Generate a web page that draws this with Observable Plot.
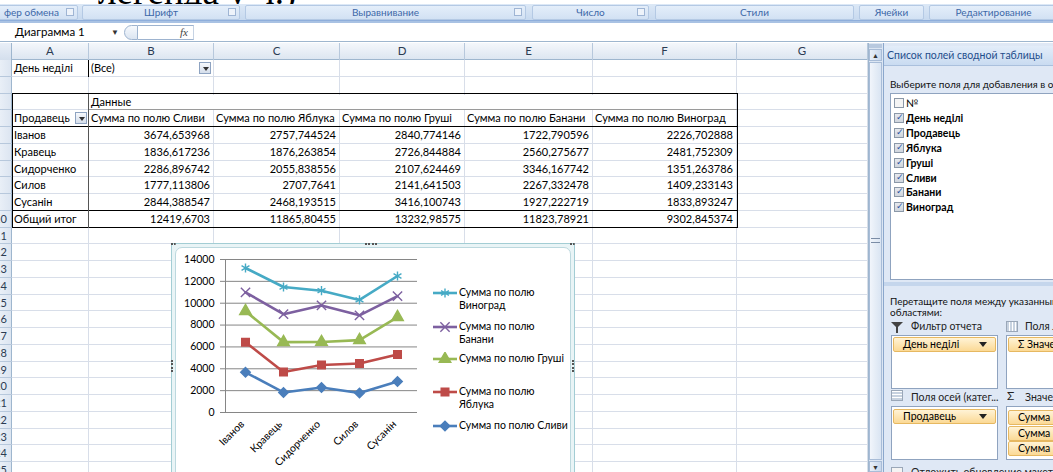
<!DOCTYPE html>
<html><head><meta charset="utf-8">
<script src="https://cdn.jsdelivr.net/npm/d3@7"></script>
<script src="https://cdn.jsdelivr.net/npm/@observablehq/plot@0.6"></script>
<style>
body{margin:0;width:1053px;height:472px;overflow:hidden;position:relative;background:#fff;font-family:Lato,"Noto Sans",sans-serif;}
.a{position:absolute;box-sizing:border-box;white-space:nowrap;overflow:hidden;}
</style></head><body>
<script>
// ---------- data ----------
const sellers = ["Іванов","Кравець","Сидорченко","Силов","Сусанін"];
const plums   = [3674.653968,1836.617236,2286.896742,1777.113806,2844.388547];
const apples  = [2757.744524,1876.263854,2055.838556,2707.7641,2468.193515];
const pears   = [2840.774146,2726.844884,2107.624469,2141.641503,3416.100743];
const bananas = [1722.790596,2560.275677,3346.167742,2267.332478,1927.222719];
const grapes  = [2226.702888,2481.752309,1351.263786,1409.233143,1833.893247];
const totals  = [12419.6703,11865.80455,13232.98575,11823.78921,9302.845374];
const seriesNames = ["Сумма по полю Сливи","Сумма по полю Яблука","Сумма по полю Груші","Сумма по полю Банани","Сумма по полю Виноград"];
const seriesValues = [plums, apples, pears, bananas, grapes];
const seriesColors = ["#4a7ebb","#be4b48","#98b954","#7d60a0","#46aac5"];
const seriesSymbols = ["diamond2","square","triangle","times","asterisk"];
const yTicks = [0,2000,4000,6000,8000,10000,12000,14000];
const colLetters = ["A","B","C","D","E","F","G"];
const fieldNames = ["№","День неділі","Продавець","Яблука","Груші","Сливи","Банани","Виноград"];
const fieldChecked = [false,true,true,true,true,true,true,true];
const ribbonGroups = ["фер обмена","Шрифт","Выравнивание","Число","Стили","Ячейки","Редактирование"];

// ---------- helpers ----------
function el(x,y,w,h,css,text,parent){
  const d=document.createElement('div'); d.className='a';
  Object.assign(d.style,{left:x+'px',top:y+'px',width:w+'px',height:h+'px'},css||{});
  if(text!=null) d.textContent=text;
  (parent||document.body).appendChild(d); return d;
}
const fmt = v => String(v).replace('.',',');

// ---------- top text & ribbon ----------
const topText=el(98,-28,320,33,{fontFamily:"'Liberation Serif',serif",fontSize:'37px',color:'#000',lineHeight:'40px'},"легенда у ч.)");
el(0,4,1053,17,{background:'linear-gradient(#dce8f6,#c7d9ef)',borderBottom:'1px solid #8eaedb'});
const groups=[[-20,80],[82,242],[245,528],[532,651],[655,856],[859,926],[929,1060]];
groups.forEach((g,i)=>{
  const d=el(g[0],5,g[1]-g[0]-2,15,{background:'linear-gradient(#e4eefa,#d2e1f3)',border:'1px solid #b4c9e4',borderRadius:'2px',color:'#3d68a8',fontSize:'10px',lineHeight:'13px',textAlign:'center'},ribbonGroups[i]);
  if(i===0){d.style.textAlign='left';d.style.paddingLeft='23px';}
  if(i<4){el(g[1]-14,8,8,8,{border:'1px solid #9fb5d4',background:'#eef3fa'});}
});
el(0,21,1053,2,{background:'#a9c2e3'});
// formula bar
el(0,23,1053,19,{background:'#fff',borderBottom:'1px solid #9eb6ce'});
el(10,24,116,16,{fontSize:'11.5px',lineHeight:'16px',color:'#000',paddingLeft:'5px'},"Диаграмма 1");
el(111,26,10,12,{fontSize:'8px',lineHeight:'12px',color:'#333'},"▼");
el(124,25,14,15,{border:'1px solid #9db3cf',borderRadius:'8px 0 0 8px',background:'linear-gradient(#f6f9fd,#dbe5f1)'});
el(138,25,56,15,{borderTop:'1px solid #9db3cf',borderBottom:'1px solid #9db3cf',borderRight:'1px solid #c6d3e4',fontFamily:"'Liberation Serif',serif",fontStyle:'italic',fontSize:'11px',lineHeight:'13px',textAlign:'right',paddingRight:'5px',color:'#444'},"fx");

// ---------- sheet grid ----------
const colEdges=[12,89,214,340,465,593,737,868];
const rowH=16.75, r0=60;
const rt=n=>r0+(n-1)*rowH;
el(0,43,868,17,{background:'linear-gradient(#f4f7fb,#dde6f1)',borderBottom:'1px solid #9eb6ce'});
el(0,43,12,17,{background:'linear-gradient(#e9eff7,#d4dfed)',borderRight:'1px solid #9eb6ce'});
colLetters.forEach((c,i)=>{
  el(colEdges[i],43,colEdges[i+1]-colEdges[i],17,{borderRight:'1px solid #b7c8dc',fontSize:'11.5px',lineHeight:'16px',textAlign:'center',color:'#2b3b52'},c);
});
// row headers (only the right part of the strip is on screen)
el(0,60,12,420,{background:'linear-gradient(90deg,#e9eff7,#dce5f1)',borderRight:'1px solid #9eb6ce'});
for(let n=1;n<=25;n++){
  el(-20,rt(n),32,rowH,{fontSize:'11px',lineHeight:rowH+'px',textAlign:'right',paddingRight:'5px',color:'#2b3b52',borderBottom:'1px solid #b7c8dc',overflow:'hidden'},n>=10?String(n):"");
}
for(let n=1;n<=25;n++) el(12,rt(n+1)-1,856,1,{background:'#d8dee9'});
for(let i=1;i<colEdges.length;i++) el(colEdges[i]-1,60,1,420,{background:'#d8dee9'});

// hide inner vertical grid in row 3 (Данные)
el(90,rt(3)+1,646,rowH-1,{background:'#fff'});

// ---------- pivot table ----------
const cellCss={fontSize:'11px',lineHeight:rowH+'px',color:'#000',padding:'0 2px'};
function cell(col,row,text,right){
  const x=colEdges[col],w=colEdges[col+1]-colEdges[col];
  return el(x,rt(row),w,rowH,Object.assign({},cellCss,right?{textAlign:'right',paddingRight:'4px'}:{}),text);
}
function dropBtn(x,y){
  const b=el(x,y,12,12,{border:'1px solid #8ea3c1',background:'linear-gradient(#f7f9fc,#d5deeb)'});
  el(2.5,3.5,0,0,{borderLeft:'3px solid transparent',borderRight:'3px solid transparent',borderTop:'4px solid #333',overflow:'visible'},null,b);
}
cell(0,1,"День неділі");
cell(1,1,"(Все)");
el(88,rt(1),1,rowH,{background:'#000'});
dropBtn(199,rt(1)+2);
cell(1,3,"Данные");
cell(0,4,"Продавець");
dropBtn(75,rt(4)+2);
seriesNames.forEach((s,i)=>cell(i+1,4,s));
sellers.forEach((p,j)=>{
  cell(0,5+j,p);
  seriesValues.forEach((vals,i)=>cell(i+1,5+j,fmt(vals[j]),true));
});
cell(0,10,"Общий итог");
totals.forEach((t,i)=>cell(i+1,10,fmt(t),true));
// borders
el(12,rt(3)-1,726,rt(11)-rt(3)+1,{border:'1px solid #000'});
el(89,rt(4)-1,648,1,{background:'#9a9a9a'});
el(12,rt(5)-1,726,1,{background:'#000'});
el(12,rt(10)-1,726,1,{background:'#000'});
el(88,rt(3),1,rt(11)-rt(3),{background:'#555'});

// ---------- right panel ----------
el(868,43,15,429,{background:'#dce6f3',borderLeft:'1px solid #9eb6ce'});
el(869,44,13,4,{background:'#b8c9df'});
el(869,49,13,12,{background:'linear-gradient(90deg,#e8eff8,#c9d8ec)',border:'1px solid #a8bcd7',fontSize:'7px',lineHeight:'10px',textAlign:'center',color:'#333'},"▲");
el(869,62,13,398,{background:'linear-gradient(90deg,#f1f5fb,#d9e4f2)',border:'1px solid #a8bcd7'});
el(871,238,9,5,{borderTop:'1px solid #7a8ca6',borderBottom:'1px solid #7a8ca6'});
el(869,461,13,11,{background:'linear-gradient(90deg,#e8eff8,#c9d8ec)',border:'1px solid #a8bcd7',fontSize:'7px',lineHeight:'10px',textAlign:'center',color:'#333'},"▼");
const panel=el(883,43,170,429,{background:'#dfe8f5',borderLeft:'1px solid #8ba7cc'});
el(0,3,170,20,{background:'linear-gradient(#e3edf9,#c9dbf1)',borderBottom:'1px solid #aac0dd',color:'#1f4e8c',fontSize:'10.5px',lineHeight:'19px',paddingLeft:'3px'},"Список полей сводной таблицы",panel);
el(6,34,170,14,{fontSize:'10px',lineHeight:'14px',color:'#111'},"Выберите поля для добавления в отчет:",panel);
const fb=el(6,50,170,187,{background:'#fff',border:'1px solid #8fa3bf'},null,panel);
fieldNames.forEach((f,i)=>{
  const y=3+i*14.9;
  const cb=el(3,y+1,10,10,{border:'1px solid #8b98a8',background:fieldChecked[i]?'linear-gradient(#e6e9ee,#cfd5dd)':'#f4f4f4'},null,fb);
  if(fieldChecked[i]) el(1,-2,8,10,{fontSize:'9px',lineHeight:'10px',color:'#2a4fa0',overflow:'visible'},"✓",cb);
  el(15,y-1,150,14,{fontSize:'10.5px',lineHeight:'14px',fontWeight:i?'bold':'normal',color:'#000'},f,fb);
});
el(0,239,170,4,{background:'#c5d6ec'},null,panel);
el(6,252,170,13,{fontSize:'10px',lineHeight:'13px',color:'#111'},"Перетащите поля между указанными но",panel);
el(6,263,170,13,{fontSize:'10px',lineHeight:'13px',color:'#111'},"областями:",panel);
// funnel icon
el(7,279,0,0,{borderLeft:'6px solid transparent',borderRight:'6px solid transparent',borderTop:'6px solid #444',overflow:'visible'},null,panel);
el(12,284,2,6,{background:'#444'},null,panel);
el(27,276,90,14,{fontSize:'10.5px',lineHeight:'14px',color:'#222'},"Фильтр отчета",panel);
el(122,278,12,11,{border:'1px solid #9aa7b8',background:'repeating-linear-gradient(90deg,#c7d2e0 0 2px,#fff 2px 3px)'},null,panel);
el(141,276,40,14,{fontSize:'10.5px',lineHeight:'14px',color:'#222'},"Поля легенды",panel);
const boxes=[[7,292,107,54],[122,292,60,54],[7,363,107,54],[122,363,60,54]].map(b=>el(b[0],b[1],b[2],b[3],{background:'#fff',border:'1px solid #8fa3bf'},null,panel));
const itemCss={background:'linear-gradient(#fff3d6,#fbd995)',border:'1px solid #e6b861',borderRadius:'2px',fontSize:'10.5px',lineHeight:'13px',color:'#000',paddingLeft:'9px'};
function item(box,x,y,w,t,arrow){
  const d=el(x,y,w,15,itemCss,t,box);
  if(arrow) el(w-18,4,0,0,{borderLeft:'4px solid transparent',borderRight:'4px solid transparent',borderTop:'5px solid #222',overflow:'visible'},null,d);
}
item(boxes[0],1,1,103,"День неділі",true);
item(boxes[1],1,1,60,"Σ  Значения",false);
el(7,347,12,11,{border:'1px solid #9aa7b8',background:'repeating-linear-gradient(0deg,#c7d2e0 0 2px,#fff 2px 3px)'},null,panel);
el(27,347,92,14,{fontSize:'10.5px',lineHeight:'14px',color:'#222'},"Поля осей (катег...",panel);
el(123,346,12,14,{fontSize:'12px',lineHeight:'14px',color:'#222'},"Σ",panel);
el(141,347,40,14,{fontSize:'10.5px',lineHeight:'14px',color:'#222'},"Значения",panel);
item(boxes[2],1,2,103,"Продавець",true);
[3,19,34].forEach(y=>item(boxes[3],1,y,60,"Сумма по полю",false));
el(7,424,12,11,{border:'1px solid #9aa7b8',background:'#f4f4f4'},null,panel);
el(27,422,150,14,{fontSize:'10.5px',lineHeight:'14px',color:'#222'},"Отложить обновление макета",panel);

// ---------- chart frame ----------
el(171,243,404,240,{background:'#e9f4f6',border:'1px solid #a3cdd4'});
el(175,247,396,236,{background:'#fff',border:'1px solid #bcd8de',borderRadius:'7px'});
el(365,243,12,3,{borderTop:'2px dotted #555'});
el(171,360,3,12,{borderLeft:'2px dotted #555'});
el(572,360,3,12,{borderLeft:'2px dotted #555'});
el(171,243,5,3,{borderTop:'2px dotted #555'});
el(570,243,5,3,{borderTop:'2px dotted #555'});

// ---------- chart ----------
const data = seriesNames.flatMap((s,i)=>sellers.map((p,j)=>({seller:p, series:s, value:seriesValues[i][j]})));
const chart = Plot.plot({
  width:396, height:225,
  marginLeft:50, marginRight:154, marginTop:12, marginBottom:60,
  style:{fontFamily:"Lato,'Noto Sans',sans-serif",fontSize:"10.5px",color:"#000",background:"transparent",overflow:"visible"},
  x:{type:"point", domain:sellers, padding:0.5},
  y:{domain:[0,14000]},
  color:{domain:seriesNames, range:seriesColors},
  symbol:{domain:seriesNames, range:seriesSymbols},
  marks:[
    Plot.gridY(yTicks,{stroke:"#868686",strokeOpacity:1}),
    Plot.frame({anchor:"left",stroke:"#868686"}),
    Plot.axisY(yTicks,{tickSize:5,tickPadding:6,label:null,tickFormat:d=>String(d),stroke:"#868686",fill:"#000"}),
    Plot.axisX({tickRotate:-45,tickSize:0,tickPadding:10,label:null,fill:"#000",dx:-3}),
    Plot.lineY(data,Plot.stackY2({x:"seller",y:"value",z:"series",stroke:"series",strokeWidth:2.6})),
    Plot.dot(data,Plot.stackY2({x:"seller",y:"value",z:"series",symbol:"series",fill:"series",stroke:"series",r:4.3,strokeWidth:1.4}))
  ]
});
const holder=el(175,247,396,225,{overflow:'visible'});
holder.appendChild(chart);

// ---------- legend ----------
const legY=[426,392,359,327,293];
seriesNames.forEach((s,i)=>{
  const y=legY[i];
  const svg=d3.create("svg").attr("width",26).attr("height",14)
    .style("position","absolute").style("left","432px").style("top",(y-7)+"px");
  svg.append("line").attr("x1",1).attr("x2",25).attr("y1",7).attr("y2",7).attr("stroke",seriesColors[i]).attr("stroke-width",2.6);
  const sym={diamond2:d3.symbolDiamond2,square:d3.symbolSquare,triangle:d3.symbolTriangle,times:d3.symbolTimes,asterisk:d3.symbolAsterisk}[seriesSymbols[i]];
  svg.append("path").attr("d",d3.symbol(sym,Math.PI*4.3*4.3)()).attr("transform","translate(13,7)")
    .attr("fill",seriesColors[i]).attr("stroke",seriesColors[i]).attr("stroke-width",1.4);
  document.body.appendChild(svg.node());
  const t=el(459,y-7,110,30,{fontSize:'10.5px',lineHeight:'13px',color:'#000',whiteSpace:'normal'});
  if(s.length>19){const k=s.lastIndexOf(' ');t.innerHTML=s.slice(0,k)+'<br>'+s.slice(k+1);} else t.textContent=s;
});
</script>
</body></html>
